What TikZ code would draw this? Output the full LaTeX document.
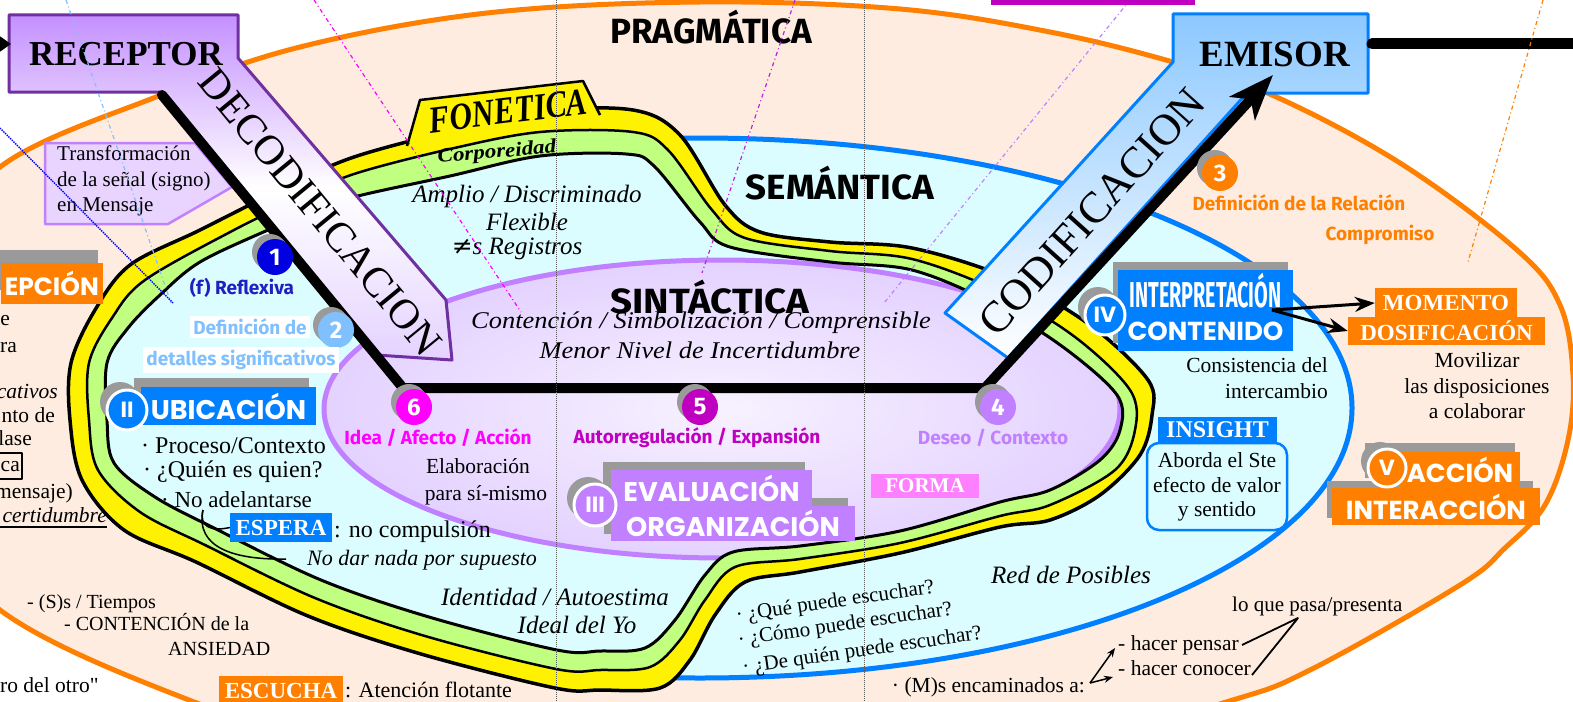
\documentclass[tikz,border=0pt]{standalone}
\usepackage{fontspec}
\setmainfont{Liberation Serif}
\newfontfamily\comic{Fira Sans}
\newfontfamily\play{Poppins}
\newfontfamily\djv{DejaVu Serif}
\usetikzlibrary{arrows.meta}
\definecolor{peach}{HTML}{FDECDF}
\definecolor{orangeC}{HTML}{FF8000}
\definecolor{cyanF}{HTML}{DCFDFF}
\definecolor{blueC}{HTML}{0080FF}
\definecolor{greenB}{HTML}{C0FF80}
\definecolor{lav}{HTML}{E4D2FF}
\definecolor{purpB}{HTML}{C080FF}
\definecolor{dpurp}{HTML}{7030A0}
\definecolor{recf}{HTML}{C490FF}
\definecolor{magC}{HTML}{FF00FF}
\definecolor{dmag}{HTML}{C000C0}
\definecolor{nblue}{HTML}{0000E0}
\definecolor{lblue}{HTML}{80C0FF}
\definecolor{rblue}{HTML}{2020C0}
\definecolor{pinkC}{HTML}{FF80FF}
\definecolor{violC}{HTML}{C020E0}
\definecolor{calF}{HTML}{E8D4FF}
\definecolor{shd}{HTML}{9A9A9A}
\definecolor{emf}{HTML}{8CC8FF}
\newcommand{\fsz}[1]{\fontsize{#1}{#1}\selectfont}
\newcommand{\fsl}[2]{\fontsize{#1}{#2}\selectfont}
\newcommand{\ncirc}[5]{\fill[shd] (#2-5,#3-5) circle (18); \node[numc, fill=#4] (#1) at (#2,#3) {#5};}
\begin{document}
\begin{tikzpicture}[x=1pt,y=-1pt,line join=round,
 tx/.style={inner sep=0pt, font=\fsz{21.5}, text height=15pt, text depth=4pt},
 scr/.style={inner sep=0pt, font=\fsz{25}\itshape},
 lbl/.style={inner sep=0pt, font=\comic\bfseries\fsz{19}},
 numc/.style={circle, minimum size=36pt, inner sep=0pt, text=white, font=\comic\bfseries\fsz{24}},
 romc/.style={circle, minimum size=40pt, inner sep=0pt, draw=white, line width=3pt, text=white, font=\play\bfseries\fsz{22}},
 wbox/.style={inner sep=0pt, text=white, font=\bfseries\fsz{23}},
 pbox/.style={inner sep=0pt, text=white, font=\play\bfseries\fsz{27}},
 head/.style={inner sep=0pt, font=\comic\bfseries\fsz{35}},
 blk/.style={line width=3pt, -{Stealth[length=20pt,width=15pt]}},
 guide/.style={line width=1.2pt, dash pattern=on 4pt off 3pt on 1pt off 3pt}
]
\useasboundingbox (0,0) rectangle (1573,701);
\clip (0,0) rectangle (1573,701);
\fill[white] (0,0) rectangle (1573,701);

% PRAGMATICA ellipse
\draw[orangeC, line width=5pt, fill=peach] plot[smooth cycle, tension=0.6] coordinates {(487,13) (700,2) (900,9) (1050,32) (1173,62) (1272,95) (1400,163) (1517,250) (1560,305) (1573,375) (1568,440) (1545,505) (1505,548) (1460,585) (1310,670) (1223,703) (1000,765) (700,790) (400,765) (189,700) (0,610) (-80,500) (-100,390) (-70,270) (0,167) (161,95) (300,47)};

% SEMANTICA ellipse
\begin{scope}
\clip (640,0) rectangle (1573,701);
\draw[blueC, line width=5pt, fill=cyanF] (700,408) ellipse [x radius=652, y radius=270];
\end{scope}

% band outer (yellow)
\draw[line width=3.5pt, fill=yellow] plot[smooth cycle, tension=0.55] coordinates {(450,131) (540,111) (633,110) (680,135) (725,205) (760,232) (830,242) (912,248) (1008,278) (1090,325) (1148,380) (1152,415) (1140,455) (1100,495) (1050,520) (1000,527) (900,553) (800,572) (745,582) (715,615) (690,660) (660,688) (600,690) (555,688) (421,654) (308,616) (196,562) (124,530) (82,480) (70,420) (71,363) (95,310) (130,265) (200,230) (290,185) (354,157)};
% FONETICA tab
\fill[yellow] (406,146) -- (420,100) -- (583,81) -- (600,114) -- (600,120) -- (500,130) -- cycle;
\draw[line width=2.5pt] (407,146) -- (420,100) -- (583,81) -- (600,115);
% band middle (green)
\draw[line width=2.5pt, fill=greenB] plot[smooth cycle, tension=0.55] coordinates {(450,149) (540,132) (633,132) (668,150) (712,210) (745,238) (830,251) (912,259) (1000,292) (1075,337) (1130,390) (1135,430) (1115,470) (1050,505) (1000,516) (900,543) (800,559) (735,567) (705,600) (680,640) (650,667) (600,670) (556,669) (425,636) (315,598) (205,545) (140,512) (98,470) (89,420) (89,363) (112,318) (145,280) (234,230) (300,198) (354,174)};
% inner region
\def\innerpath{plot[smooth cycle, tension=0.55] coordinates {(450,176) (540,156) (626,154) (654,166) (700,222) (730,247) (830,262) (912,270) (992,303) (1063,347) (1117,395) (1120,430) (1100,460) (1050,490) (1000,502) (900,531) (800,546) (733,552) (705,575) (675,620) (645,648) (600,651) (557,650) (429,617) (321,580) (214,528) (155,497) (114,463) (107,420) (107,363) (128,328) (160,295) (200,262) (268,230) (310,213) (354,197)}}
\fill[cyanF] \innerpath;
\begin{scope}
\clip \innerpath;
\draw[purpB, line width=5pt, inner color=white!70!lav, outer color=lav] (722,409) ellipse [x radius=398, y radius=149];
\end{scope}
\draw[line width=3pt] \innerpath;

% callout
\draw[purpB, line width=2.5pt, fill=calF] (45,143) -- (195,143) -- (232,187) -- (168,224) -- (45,224) -- cycle;
\node[inner sep=0pt, font=\fsl{21}{25.5}, align=left, anchor=north west] (trans) at (57,146) {Transformación\\de la señal (signo)\\en Mensaje};

% RECEPTOR / DECODIFICACION
\draw[dpurp, line width=3pt, top color=recf, bottom color=lav, middle color=white] (9,15) -- (238,15) -- (238,58) -- (446,300) -- (452,360) -- (376,355) -- (160,92) -- (9,92) -- cycle;
% EMISOR / CODIFICACION
\draw[blueC, line width=3pt, top color=emf, bottom color=white] (1173,14) -- (1368,14) -- (1368,93) -- (1247,93) -- (1008,358) -- (945,313) -- (1173,62) -- cycle;

\node[font=\bfseries\fsz{35}, inner sep=0pt] (rec) at (126,54) {RECEPTOR};
\node[font=\bfseries\fsz{37}, inner sep=0pt] (emi) at (1275,54) {EMISOR};
\node[font=\fsz{42}, rotate=-50.6, inner sep=0pt] (deco) at (320,212) {DECODIFICACION};
\node[font=\fsz{44}, rotate=48, inner sep=0pt] (codi) at (1092,212) {CODIFICACION};

% connectors at top
\coordinate (lin) at (-30,44);
\coordinate (recin) at (11,44);
\draw[line width=4pt, -{Triangle[length=12pt,width=16pt]}] (lin) -- (recin);
\coordinate (emout) at (1372,44);
\coordinate (emfar) at (1600,44);
\draw[line width=11pt, line cap=round] (emout) -- (emfar);

% main black line
\coordinate (bl0) at (162,95);
\coordinate (bl1) at (403,388);
\coordinate (bl2) at (985,388);
\coordinate (bl3) at (1273,75);
\draw[line width=10pt, line cap=round, -{Stealth[length=45pt,width=34pt,inset=12pt]}] (bl0) -- (bl1) -- (bl2) -- (bl3);

% headings
\node[head] (prag) at (711,27) {PRAGMÁTICA};
\node[head] (sema) at (840,183) {\scalebox{1.05}[1]{SEMÁNTICA}};
\node[head] (sint) at (710,297) {\scalebox{1.1}[1]{SINTÁCTICA}};
\node[inner sep=0pt, font=\fsz{24}\itshape] (conte) at (701,323) {\scalebox{1.1}[1]{Contención / Simbolización / Comprensible}};
\node[inner sep=0pt, font=\fsz{24}\itshape] (menor) at (700,350) {\scalebox{1.1}[1]{Menor Nivel de Incertidumbre}};

\node[scr] (ampl) at (527,196) {Amplio / Discriminado};
\node[scr] (flex) at (527,222) {Flexible};
\node[scr] (regi) at (517,249) {{\djv ≠}s Registros};
\node[scr] (iden) at (555,597) {Identidad / Autoestima};
\node[scr] (ideal) at (577,625) {Ideal del Yo};
\node[scr] (redp) at (1071,575) {Red de Posibles};
\node[inner sep=0pt, font=\bfseries\itshape\fsz{20}, rotate=5] (corp) at (497,153) {\scalebox{1.15}[1]{Corporeidad}};
\node[inner sep=0pt, font=\bfseries\itshape\fsz{38}, rotate=7] (fone) at (508,111) {\scalebox{0.82}[1]{FONETICA}};

% numbered circles
\ncirc{n1}{275}{257}{nblue}{1}
\ncirc{n2}{336}{330}{lblue}{2}
\ncirc{n3}{1220}{173}{orangeC}{3}
\ncirc{n4}{998}{407}{purpB}{4}
\ncirc{n5}{700}{407}{dmag}{5}
\ncirc{n6}{414}{407}{magC}{6}

\node[lbl, text=rblue] (refl) at (242,288) {(f) Reflexiva};
\node[lbl, text=lblue, fill=white, inner sep=3pt] (def2a) at (250,327) {Definición de};
\node[lbl, text=lblue, fill=white, inner sep=3pt] (def2b) at (241,360) {detalles significativos};
\node[lbl, text=magC] (idaf) at (438,438) {Idea / Afecto / Acción};
\node[lbl, text=dmag] (autor) at (697,438) {Autorregulación / Expansión};
\node[lbl, text=purpB] (dese) at (993,438) {Deseo / Contexto};
\node[lbl, text=orangeC] (defr) at (1299,203) {Definición de la Relación};
\node[lbl, text=orangeC] (compr) at (1380,235) {Compromiso};

% II UBICACION
\fill[shd] (134,378) rectangle (309,416);
\node[pbox, fill=blueC, minimum width=175pt, minimum height=38pt] (ubic) at (228.5,406) {UBICACIÓN};
\fill[shd] (120,402) circle (20);
\node[romc, fill=blueC] (r2) at (127,410) {II};

% III EVALUACION
\fill[shd] (603,462) rectangle (805,498);
\fill[shd] (604,498) rectangle (848,534);
\node[pbox, fill=purpB, minimum width=201pt, minimum height=36pt] (evalu) at (711.5,488) {EVALUACIÓN};
\node[pbox, fill=purpB, minimum width=244pt, minimum height=35pt] (orga) at (733,523.5) {ORGANIZACIÓN};
\fill[shd] (588,498) circle (21);
\node[romc, fill=purpB, minimum size=42pt] (r3) at (595,505) {III};

% IV INTERPRETACION
\fill[shd] (1113,262) rectangle (1288,343);
\node[pbox, fill=blueC, minimum width=175pt, minimum height=41pt, font=\comic\bfseries\fsz{36}] (intp) at (1205.5,290.5) {\scalebox{0.55}[1]{INTERPRETACIÓN}};
\node[pbox, fill=blueC, minimum width=175pt, minimum height=40pt, font=\play\bfseries\fsz{26}] (cnt) at (1205.5,331) {CONTENIDO};
\fill[shd] (1098,307) circle (20);
\node[romc, fill=blueC] (r4) at (1105,315) {IV};

% V ACCION
\fill[shd] (1365,443) rectangle (1515,478);
\fill[shd] (1327,481) rectangle (1533,518);
\node[pbox, fill=orangeC, minimum width=120pt, minimum height=36pt, font=\play\bfseries\fsz{26}] (acc) at (1460,470) {ACCIÓN};
\node[pbox, fill=orangeC, minimum width=208pt, minimum height=37pt, font=\play\bfseries\fsz{26}] (inter) at (1436,506.5) {INTERACCIÓN};
\fill[shd] (1380,461) circle (19);
\node[romc, fill=orangeC, minimum size=38pt] (r5) at (1387,468) {V};

% RECEPCION (cut)
\fill[shd] (-10,250) rectangle (98,290);
\node[pbox, fill=orangeC, minimum height=41pt, inner xsep=4pt, anchor=east, font=\play\bfseries\fsz{25}] (recp) at (103,283) {EPCIÓN};

% white-letter boxes
\node[wbox, fill=blueC, minimum width=102pt, minimum height=29pt] (espe) at (281,527.5) {ESPERA};
\node[wbox, fill=orangeC, minimum width=124pt, minimum height=30pt] (escu) at (281,691) {ESCUCHA};
\node[wbox, fill=pinkC, minimum width=108pt, minimum height=24pt, font=\bfseries\fsz{21}] (forma) at (925,486) {FORMA};
\node[wbox, fill=orangeC, minimum width=142pt, minimum height=30pt] (mome) at (1446,303) {MOMENTO};
\node[wbox, fill=orangeC, minimum width=197pt, minimum height=28pt] (dosi) at (1446.5,331) {DOSIFICACIÓN};
\node[draw=blueC, line width=2.5pt, fill=cyanF, rounded corners=12pt, minimum width=140pt, minimum height=87pt] (abbox) at (1217,486.5) {};
\node[wbox, fill=blueC, minimum width=119pt, minimum height=26pt, font=\bfseries\fsz{24}] (insi) at (1217.5,430) {INSIGHT};
\node[inner sep=0pt, font=\fsl{21.5}{24.5}, align=center] (abor) at (1217,487) {Aborda el Ste\\efecto de valor\\y sentido};

% arrows from IV
\coordinate (ivo) at (1272,310);
\draw[blk] (ivo) -- (mome.west);
\draw[blk] (ivo) -- (dosi.west);

% left texts
\node[tx, anchor=east] (le) at (10,320) {e};
\node[tx, anchor=east] (lra) at (17,347) {ra};
\node[tx, anchor=east, font=\fsz{21.5}\itshape] (lcat) at (58,393) {cativos};
\node[tx, anchor=east] (lnto) at (55,417) {nto de};
\node[tx, anchor=east] (llas) at (32,440) {lase};
\draw[line width=1.5pt] (-5,453) rectangle (22,479);
\node[tx, anchor=east] (lca) at (20,466) {ca};
\node[tx, anchor=east] (lmen) at (73,493) {mensaje)};
\node[tx, anchor=east, font=\fsz{21.5}\itshape] (lcer) at (107,517) {certidumbre};
\draw[line width=1.2pt] (0,527) -- (107,527);

\node[tx, anchor=west, font=\fsz{24}] (proc) at (141,448) {· Proceso/Contexto};
\node[tx, anchor=west, font=\fsz{24}] (quie) at (143,472) {· ¿Quién es quien?};
\node[tx, anchor=west, font=\fsz{23}] (noad) at (161,502) {· No adelantarse};
\node[tx, anchor=west, font=\fsz{24}] (nocomp) at (334,532) {: no compulsión};
\node[tx, anchor=west, font=\fsz{22}\itshape] (nodar) at (307,560) {No dar nada por supuesto};
\coordinate (brk) at (203,510);
\coordinate (ndr) at (286,559);
\draw[line width=1.5pt] (brk) .. controls (199,526) and (210,532) .. (espe.west);
\draw[line width=1.5pt] (brk) .. controls (195,548) and (235,560) .. (ndr);

\node[tx] (elab) at (478,468) {Elaboración};
\node[tx] (para) at (486,495) {para sí-mismo};
\node[tx, anchor=east] (consi) at (1328,367) {Consistencia del};
\node[tx, anchor=east] (interc) at (1328,393) {intercambio};
\node[tx] (movi) at (1477,362) {Movilizar};
\node[tx] (lasd) at (1477,388) {las disposiciones};
\node[tx] (acol) at (1477,413) {a colaborar};

\node[tx, font=\fsz{21}, rotate=8.3] (q1) at (835,602) {· ¿Qué puede escuchar?};
\node[tx, font=\fsz{21}, rotate=8.3] (q2) at (845,625) {· ¿Cómo puede escuchar?};
\node[tx, font=\fsz{21}, rotate=8.3] (q3) at (862,651) {· ¿De quién puede escuchar?};

\node[tx, anchor=east] (enca) at (1085,687) {· (M)s encaminados a:};
\node[tx, anchor=west] (hpen) at (1118,645) {- hacer pensar};
\node[tx, anchor=west] (hcon) at (1118,670) {- hacer conocer};
\node[tx, anchor=west, font=\fsz{21}] (lqp) at (1232,606) {lo que pasa/presenta};
\coordinate (enc) at (1090,683);
\coordinate (hp) at (1115,648);
\coordinate (hc) at (1113,677);
\draw[line width=1.5pt, -{Stealth[length=9pt,width=7pt]}] (enc) -- (hp);
\draw[line width=1.5pt, -{Stealth[length=9pt,width=7pt]}] (enc) -- (hc);
\coordinate (lqpb) at (1298,618);
\coordinate (hpe) at (1242,645);
\coordinate (hce) at (1252,675);
\draw[line width=1.8pt] (hpe) -- (lqpb) -- (hce);

\node[tx, anchor=west, font=\fsz{20}] (stie) at (27,603) {- (S)s / Tiempos};
\node[tx, anchor=west, font=\fsz{20}] (conten) at (64,625) {- CONTENCIÓN de la};
\node[tx, anchor=west, font=\fsz{20}] (ansi) at (168,650) {ANSIEDAD};
\node[tx, anchor=west] (rodel) at (0,687) {ro del otro{\addfontfeature{Ligatures=TeXOff}"}};
\node[tx, anchor=west, font=\fsz{22}] (aten) at (345,692) {: Atención flotante};

% guide lines
\draw[gray!70!black, line width=1pt, densely dotted] (556,0) -- (556,701);
\draw[gray!70!black, line width=1pt, densely dotted] (864,0) -- (864,701);
\draw[magC, guide] (314,0) -- (521,312);
\draw[lblue, guide] (66,0) -- (171,303);
\draw[blue, line width=1.4pt, densely dotted] (0,128) -- (173,303);
\draw[violC, guide] (795,0) -- (702,273);
\draw[purpB, guide] (1130,0) -- (884,303);
\draw[orangeC, guide] (1543,0) -- (1468,262);
\fill[dmag] (991,-2) rectangle (1195,5);
\end{tikzpicture}
\end{document}
